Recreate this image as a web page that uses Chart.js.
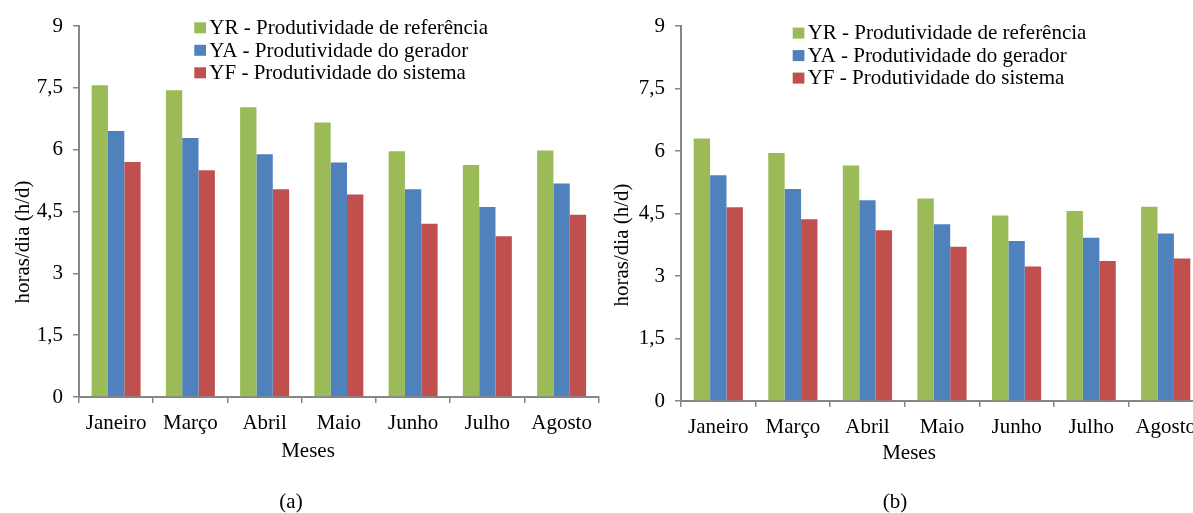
<!DOCTYPE html>
<html>
<head>
<meta charset="utf-8">
<script src="https://cdn.jsdelivr.net/npm/chart.js@4.4.1/dist/chart.umd.min.js"></script>
<style>
  body { margin: 0; background: #fff; }
  #wrap { position: relative; width: 1193px; height: 513px; overflow: hidden; background: #fff; }
  #wrap canvas { position: absolute; top: 0; }
  #chartA { left: 0; }
  #chartB { left: 600px; }
</style>
</head>
<body>
<div id="wrap">
  <canvas id="chartA" width="600" height="513"></canvas>
  <canvas id="chartB" width="606" height="513"></canvas>
</div>
<script>
const months = ['Janeiro', 'Março', 'Abril', 'Maio', 'Junho', 'Julho', 'Agosto'];
const seriesNames = [
    'YR - Produtividade de referência',
    'YA - Produtividade do gerador',
    'YF - Produtividade do sistema'
];
const yTickLabels = ['0', '1,5', '3', '4,5', '6', '7,5', '9'];

// painel (a)
const yrA = [7.56, 7.44, 7.03, 6.66, 5.96, 5.63, 5.98];
const yaA = [6.45, 6.28, 5.89, 5.69, 5.04, 4.61, 5.18];
const yfA = [5.70, 5.50, 5.04, 4.91, 4.20, 3.90, 4.42];

// painel (b)
const yrB = [6.30, 5.95, 5.65, 4.86, 4.45, 4.56, 4.66];
const yaB = [5.42, 5.09, 4.82, 4.24, 3.84, 3.92, 4.02];
const yfB = [4.65, 4.36, 4.10, 3.70, 3.23, 3.36, 3.42];

const colors = ['#9BBB59', '#4F81BD', '#C0504D'];
const axisGray = '#868686';
const FONT_FAMILY = '"Liberation Serif", "Times New Roman", serif';

// legend, axis titles and panel letter drawn straight on the canvas
const textLayer = {
    id: 'textLayer',
    afterDraw(chart, args, opts) {
        const ctx = chart.ctx;
        ctx.save();
        ctx.font = '21px ' + FONT_FAMILY;
        ctx.textBaseline = 'alphabetic';

        chart.data.datasets.forEach((ds, i) => {
            const base = opts.legendBase + i * 22.5;
            ctx.fillStyle = ds.backgroundColor;
            ctx.fillRect(opts.legendX, base - 11.7, 11.7, 11);
            ctx.fillStyle = '#000';
            ctx.textAlign = 'left';
            ctx.fillText(ds.label, opts.legendX + 15, base);
        });

        ctx.fillStyle = '#000';
        ctx.textAlign = 'center';
        ctx.fillText('Meses', opts.xTitle[0], opts.xTitle[1]);
        ctx.fillText(opts.caption, opts.captionPos[0], opts.captionPos[1]);

        ctx.translate(opts.yTitle[0], opts.yTitle[1]);
        ctx.rotate(-Math.PI / 2);
        ctx.fillText('horas/dia (h/d)', 0, 0);
        ctx.restore();
    }
};

function makeChart(id, values, cfg) {
    const ctx = document.getElementById(id).getContext('2d');
    return new Chart(ctx, {
        type: 'bar',
        data: {
            labels: months,
            datasets: values.map((v, i) => ({
                label: seriesNames[i],
                data: v,
                backgroundColor: colors[i],
                borderWidth: 0,
                categoryPercentage: 0.66,
                barPercentage: 1.0
            }))
        },
        options: {
            responsive: false,
            animation: false,
            devicePixelRatio: 1,
            layout: {
                padding: { top: 26, right: cfg.padRight, bottom: 0, left: 0 }
            },
            plugins: {
                legend: { display: false },
                tooltip: { enabled: false },
                textLayer: cfg.text
            },
            scales: {
                x: {
                    afterFit: s => { s.height = cfg.xHeight; },
                    grid: {
                        display: true,
                        drawOnChartArea: false,
                        drawTicks: true,
                        tickLength: 6,
                        color: axisGray,
                        lineWidth: 1.5
                    },
                    border: { display: true, color: axisGray, width: 2 },
                    ticks: {
                        color: '#000',
                        padding: 8,
                        maxRotation: 0,
                        autoSkip: false,
                        font: { family: FONT_FAMILY, size: 21 }
                    }
                },
                y: {
                    min: 0,
                    max: 9,
                    afterFit: s => { s.width = cfg.yWidth; },
                    grid: {
                        display: true,
                        drawOnChartArea: false,
                        drawTicks: true,
                        tickLength: 6,
                        color: axisGray,
                        lineWidth: 1.5
                    },
                    border: { display: true, color: axisGray, width: 2 },
                    ticks: {
                        stepSize: 1.5,
                        color: '#000',
                        padding: 10,
                        font: { family: FONT_FAMILY, size: 21 },
                        callback: (value, index) => yTickLabels[index]
                    }
                }
            }
        },
        plugins: [textLayer]
    });
}

makeChart('chartA', [yrA, yaA, yfA], {
    padRight: 1,
    xHeight: 513 - 397,
    yWidth: 79,
    text: {
        legendX: 194.3,
        legendBase: 34,
        xTitle: [308, 456.7],
        caption: '(a)',
        captionPos: [291, 508],
        yTitle: [29, 242]
    }
});

makeChart('chartB', [yrB, yaB, yfB], {
    padRight: 3,
    xHeight: 513 - 401,
    yWidth: 81,
    text: {
        legendX: 192.7,
        legendBase: 39.3,
        xTitle: [309, 459],
        caption: '(b)',
        captionPos: [295, 508],
        yTitle: [28, 245]
    }
});
</script>
</body>
</html>
